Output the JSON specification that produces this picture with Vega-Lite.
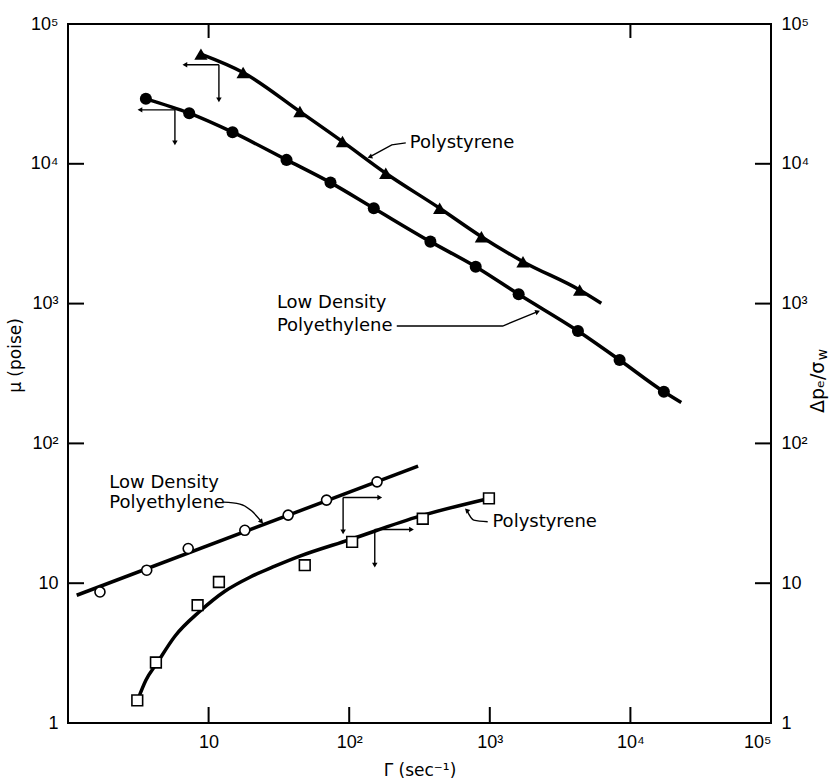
{
  "$schema": "https://vega.github.io/schema/vega-lite/v6.json",
  "width": 703,
  "height": 699,
  "autosize": "none",
  "padding": {"left": 68, "top": 24, "right": 62, "bottom": 58},
  "background": "white",
  "config": {
    "view": {"stroke": "black", "strokeWidth": 2},
    "font": "Liberation Sans",
    "axis": {
      "grid": false,
      "domain": false,
      "ticks": false,
      "labelPadding": 10,
      "labelFont": "Liberation Sans",
      "labelFontSize": 18,
      "labelColor": "black",
      "titleFont": "DejaVu Sans",
      "titleFontSize": 17,
      "titleFontWeight": "normal",
      "titleColor": "black"
    }
  },
  "datasets": {
    "frame_ticks": [
      {"x": 10, "x2": 10, "y": 1, "y2": 1.302}, {"x": 100, "x2": 100, "y": 1, "y2": 1.302},
      {"x": 1000, "x2": 1000, "y": 1, "y2": 1.302}, {"x": 10000, "x2": 10000, "y": 1, "y2": 1.302},
      {"x": 10, "x2": 10, "y": 79430, "y2": 100000}, {"x": 10000, "x2": 10000, "y": 79430, "y2": 100000},
      {"x": 1, "x2": 1.3, "y": 10, "y2": 10}, {"x": 1, "x2": 1.3, "y": 100, "y2": 100},
      {"x": 1, "x2": 1.3, "y": 1000, "y2": 1000}, {"x": 1, "x2": 1.3, "y": 10000, "y2": 10000},
      {"x": 76900, "x2": 100000, "y": 10, "y2": 10}, {"x": 76900, "x2": 100000, "y": 100, "y2": 100},
      {"x": 76900, "x2": 100000, "y": 1000, "y2": 1000}, {"x": 76900, "x2": 100000, "y": 10000, "y2": 10000}
    ],
    "mu_lines": [
      {"s": "ldpe", "x": 3.58, "y": 29150}, {"s": "ldpe", "x": 7.28, "y": 23030}, {"s": "ldpe", "x": 14.8, "y": 16830},
      {"s": "ldpe", "x": 35.84, "y": 10665}, {"s": "ldpe", "x": 73.6, "y": 7335}, {"s": "ldpe", "x": 149.6, "y": 4811},
      {"s": "ldpe", "x": 378, "y": 2775}, {"s": "ldpe", "x": 794, "y": 1837}, {"s": "ldpe", "x": 1604, "y": 1166},
      {"s": "ldpe", "x": 4236, "y": 637}, {"s": "ldpe", "x": 8380, "y": 395}, {"s": "ldpe", "x": 17300, "y": 234},
      {"s": "ldpe", "x": 23000, "y": 196},
      {"s": "ps", "x": 8.82, "y": 60900}, {"s": "ps", "x": 17.6, "y": 44970}, {"s": "ps", "x": 44.6, "y": 23640},
      {"s": "ps", "x": 89.6, "y": 14420}, {"s": "ps", "x": 182, "y": 8563}, {"s": "ps", "x": 440, "y": 4811},
      {"s": "ps", "x": 871.5, "y": 3012}, {"s": "ps", "x": 1722, "y": 1995}, {"s": "ps", "x": 4355, "y": 1251},
      {"s": "ps", "x": 6210, "y": 1005}
    ],
    "ldpe_mu": [
      {"x": 3.58, "y": 29150}, {"x": 7.28, "y": 23030}, {"x": 14.8, "y": 16830}, {"x": 35.84, "y": 10665},
      {"x": 73.6, "y": 7335}, {"x": 149.6, "y": 4811}, {"x": 378, "y": 2775}, {"x": 794, "y": 1837},
      {"x": 1604, "y": 1166}, {"x": 4236, "y": 637}, {"x": 8380, "y": 395}, {"x": 17300, "y": 234}
    ],
    "ps_mu": [
      {"x": 8.82, "y": 60900}, {"x": 17.6, "y": 44970}, {"x": 44.6, "y": 23640}, {"x": 89.6, "y": 14420},
      {"x": 182, "y": 8563}, {"x": 440, "y": 4811}, {"x": 871.5, "y": 3012}, {"x": 1722, "y": 1995},
      {"x": 4355, "y": 1251}
    ],
    "dp_lines": [
      {"s": "ldpe", "x": 1.153, "y": 8.2}, {"s": "ldpe", "x": 309, "y": 68.8},
      {"s": "ps", "x": 3.145, "y": 1.478}, {"s": "ps", "x": 3.58, "y": 2.02}, {"s": "ps", "x": 4.29, "y": 2.675},
      {"s": "ps", "x": 5.76, "y": 4.175}, {"s": "ps", "x": 8.676, "y": 6.3}, {"s": "ps", "x": 13.05, "y": 8.76},
      {"s": "ps", "x": 19.66, "y": 11.04}, {"s": "ps", "x": 29.6, "y": 13.23}, {"s": "ps", "x": 44.56, "y": 15.61},
      {"s": "ps", "x": 101, "y": 20.48}, {"s": "ps", "x": 317.6, "y": 30.17}, {"s": "ps", "x": 986, "y": 40.4}
    ],
    "ldpe_dp": [
      {"x": 1.688, "y": 8.66}, {"x": 3.63, "y": 12.39}, {"x": 7.16, "y": 17.71}, {"x": 18.1, "y": 23.9},
      {"x": 36.8, "y": 30.7}, {"x": 69.0, "y": 39.3}, {"x": 157.8, "y": 53.1}
    ],
    "ps_dp": [
      {"x": 3.11, "y": 1.453}, {"x": 4.22, "y": 2.71}, {"x": 8.35, "y": 6.96}, {"x": 11.84, "y": 10.2},
      {"x": 48.3, "y": 13.45}, {"x": 104.9, "y": 19.75}, {"x": 333.5, "y": 28.9}, {"x": 986, "y": 40.4}
    ],
    "arrows_a": [
      {"x": 11.84, "x2": 6.78, "y": 51060, "y2": 51060}, {"x": 11.84, "x2": 11.84, "y": 51060, "y2": 28670},
      {"x": 5.76, "x2": 3.25, "y": 24310, "y2": 24310}, {"x": 5.76, "x2": 5.76, "y": 24310, "y2": 14110}
    ],
    "heads_a": [
      {"x": 6.78, "y": 51060, "dir": "left"}, {"x": 11.84, "y": 28670, "dir": "down"},
      {"x": 3.25, "y": 24310, "dir": "left"}, {"x": 5.76, "y": 14110, "dir": "down"}
    ],
    "arrows_b": [
      {"x": 90.5, "x2": 165, "y": 41.07, "y2": 41.07}, {"x": 90.5, "x2": 90.5, "y": 41.07, "y2": 23.3},
      {"x": 152, "x2": 277.3, "y": 24.23, "y2": 24.23}, {"x": 152, "x2": 152, "y": 24.23, "y2": 13.45}
    ],
    "heads_b": [
      {"x": 165, "y": 41.07, "dir": "right"}, {"x": 90.5, "y": 23.3, "dir": "down"},
      {"x": 277.3, "y": 24.23, "dir": "right"}, {"x": 152, "y": 13.45, "dir": "down"}
    ],
    "leaders_a": [
      {"id": "ps", "x": 252.6, "y": 14110}, {"id": "ps", "x": 200.8, "y": 13650}, {"id": "ps", "x": 140.1, "y": 11200},
      {"id": "ldpe", "x": 217.9, "y": 691}, {"id": "ldpe", "x": 1235, "y": 691}, {"id": "ldpe", "x": 2190, "y": 875}
    ],
    "tips_a": [
      {"x": 140.1, "y": 11200, "deg": 248.7}, {"x": 2190, "y": 875, "deg": 67.8}
    ],
    "leaders_b": [
      {"id": "ldpe", "x": 12.7, "y": 38.0}, {"id": "ldpe", "x": 16.7, "y": 36.8}, {"id": "ldpe", "x": 20.3, "y": 32.8},
      {"id": "ldpe", "x": 23.8, "y": 27.5},
      {"id": "ps", "x": 685, "y": 33.3}, {"id": "ps", "x": 768.6, "y": 28.25}, {"id": "ps", "x": 966, "y": 27.5}
    ],
    "tips_b": [
      {"x": 23.8, "y": 27.5, "deg": 137.8}, {"x": 685, "y": 33.3, "deg": 315}
    ],
    "labels_a": [
      {"x": 269.6, "y": 14110, "label": "Polystyrene"},
      {"x": 30.6, "y": 1010, "label": "Low Density"},
      {"x": 30.6, "y": 691, "label": "Polyethylene"}
    ],
    "labels_b": [
      {"x": 1.966, "y": 52.2, "label": "Low Density"},
      {"x": 1.966, "y": 37.2, "label": "Polyethylene"},
      {"x": 1043.5, "y": 27.5, "label": "Polystyrene"}
    ],
    "rtitle_main": [{"x": 217600, "y": 164.8, "label": "Δpₑ/σ"}],
    "rtitle_sub": [{"x": 236100, "y": 432.3, "label": "w"}]
  },
  "layer": [
    {
      "encoding": {
        "x": {
          "field": "x", "type": "quantitative",
          "scale": {"type": "log", "domain": [1, 100000], "nice": false},
          "axis": {
            "orient": "bottom",
            "values": [10, 100, 1000, 10000, 100000],
            "labelExpr": "datum.value == 10 ? '10' : datum.value == 100 ? '10²' : datum.value == 1000 ? '10³' : datum.value == 10000 ? '10⁴' : '10⁵'",
            "title": "Γ (sec⁻¹)",
            "titleY": 47,
            "titleBaseline": "middle"
          }
        },
        "y": {
          "field": "y", "type": "quantitative",
          "scale": {"type": "log", "domain": [1, 100000], "nice": false},
          "axis": {
            "orient": "left",
            "values": [1, 10, 100, 1000, 10000, 100000],
            "labelExpr": "datum.value == 1 ? '1' : datum.value == 10 ? '10' : datum.value == 100 ? '10²' : datum.value == 1000 ? '10³' : datum.value == 10000 ? '10⁴' : '10⁵'",
            "title": "μ (poise)",
            "titleX": -53,
            "titleY": 331,
            "titleAngle": 270,
            "titleAlign": "center",
            "titleBaseline": "middle"
          }
        }
      },
      "layer": [
        {
          "data": {"name": "mu_lines"},
          "mark": {"type": "line", "color": "black", "strokeWidth": 3.5, "interpolate": "monotone"},
          "encoding": {"detail": {"field": "s", "type": "nominal"}}
        },
        {
          "data": {"name": "leaders_a"},
          "mark": {"type": "line", "color": "black", "strokeWidth": 1.4},
          "encoding": {"detail": {"field": "id", "type": "nominal"}}
        },
        {
          "data": {"name": "arrows_a"},
          "mark": {"type": "rule", "color": "black", "strokeWidth": 1.4},
          "encoding": {"x2": {"field": "x2"}, "y2": {"field": "y2"}}
        },
        {
          "data": {"name": "frame_ticks"},
          "mark": {"type": "rule", "color": "black", "strokeWidth": 2},
          "encoding": {"x2": {"field": "x2"}, "y2": {"field": "y2"}}
        },
        {
          "data": {"name": "heads_a"},
          "mark": {"type": "point", "filled": true, "color": "black", "size": 30, "opacity": 1},
          "encoding": {
            "shape": {"field": "dir", "type": "nominal", "scale": {"domain": ["left", "down", "right"], "range": ["triangle-left", "triangle-down", "triangle-right"]}, "legend": null}
          }
        },
        {
          "data": {"name": "tips_a"},
          "mark": {"type": "point", "shape": "triangle-up", "filled": true, "color": "black", "size": 30, "opacity": 1},
          "encoding": {"angle": {"field": "deg", "type": "quantitative", "scale": null}}
        },
        {
          "data": {"name": "ldpe_mu"},
          "mark": {"type": "point", "shape": "circle", "filled": true, "color": "black", "size": 145, "opacity": 1}
        },
        {
          "data": {"name": "ps_mu"},
          "mark": {"type": "point", "shape": "triangle-up", "filled": true, "color": "black", "size": 175, "opacity": 1}
        },
        {
          "data": {"name": "labels_a"},
          "mark": {"type": "text", "align": "left", "baseline": "middle", "font": "DejaVu Sans", "fontSize": 18, "color": "black"},
          "encoding": {"text": {"field": "label", "type": "nominal"}}
        }
      ]
    },
    {
      "encoding": {
        "x": {
          "field": "x", "type": "quantitative",
          "scale": {"type": "log", "domain": [1, 100000], "nice": false},
          "axis": null
        },
        "y": {
          "field": "y", "type": "quantitative",
          "scale": {"type": "log", "domain": [1, 100000], "nice": false},
          "axis": {
            "orient": "right",
            "values": [1, 10, 100, 1000, 10000, 100000],
            "labelExpr": "datum.value == 1 ? '1' : datum.value == 10 ? '10' : datum.value == 100 ? '10²' : datum.value == 1000 ? '10³' : datum.value == 10000 ? '10⁴' : '10⁵'",
            "title": null
          }
        }
      },
      "layer": [
        {
          "data": {"name": "dp_lines"},
          "mark": {"type": "line", "color": "black", "strokeWidth": 3.5, "interpolate": "monotone"},
          "encoding": {"detail": {"field": "s", "type": "nominal"}}
        },
        {
          "data": {"name": "leaders_b"},
          "mark": {"type": "line", "color": "black", "strokeWidth": 1.4, "interpolate": "monotone"},
          "encoding": {"detail": {"field": "id", "type": "nominal"}}
        },
        {
          "data": {"name": "arrows_b"},
          "mark": {"type": "rule", "color": "black", "strokeWidth": 1.4},
          "encoding": {"x2": {"field": "x2"}, "y2": {"field": "y2"}}
        },
        {
          "data": {"name": "heads_b"},
          "mark": {"type": "point", "filled": true, "color": "black", "size": 30, "opacity": 1},
          "encoding": {
            "shape": {"field": "dir", "type": "nominal", "scale": {"domain": ["left", "down", "right"], "range": ["triangle-left", "triangle-down", "triangle-right"]}, "legend": null}
          }
        },
        {
          "data": {"name": "tips_b"},
          "mark": {"type": "point", "shape": "triangle-up", "filled": true, "color": "black", "size": 30, "opacity": 1},
          "encoding": {"angle": {"field": "deg", "type": "quantitative", "scale": null}}
        },
        {
          "data": {"name": "ldpe_dp"},
          "mark": {"type": "point", "shape": "circle", "filled": true, "fill": "white", "stroke": "black", "strokeWidth": 1.6, "size": 100, "opacity": 1}
        },
        {
          "data": {"name": "ps_dp"},
          "mark": {"type": "point", "shape": "square", "filled": true, "fill": "white", "stroke": "black", "strokeWidth": 1.6, "size": 115, "opacity": 1}
        },
        {
          "data": {"name": "labels_b"},
          "mark": {"type": "text", "align": "left", "baseline": "middle", "font": "DejaVu Sans", "fontSize": 18, "color": "black"},
          "encoding": {"text": {"field": "label", "type": "nominal"}}
        },
        {
          "data": {"name": "rtitle_main"},
          "mark": {"type": "text", "align": "left", "baseline": "middle", "angle": 270, "font": "DejaVu Sans", "fontSize": 19, "color": "black"},
          "encoding": {"text": {"field": "label", "type": "nominal"}}
        },
        {
          "data": {"name": "rtitle_sub"},
          "mark": {"type": "text", "align": "center", "baseline": "middle", "angle": 270, "font": "DejaVu Sans", "fontSize": 14, "color": "black"},
          "encoding": {"text": {"field": "label", "type": "nominal"}}
        }
      ]
    }
  ],
  "resolve": {
    "scale": {"x": "independent", "y": "independent"},
    "axis": {"x": "independent", "y": "independent"}
  }
}
